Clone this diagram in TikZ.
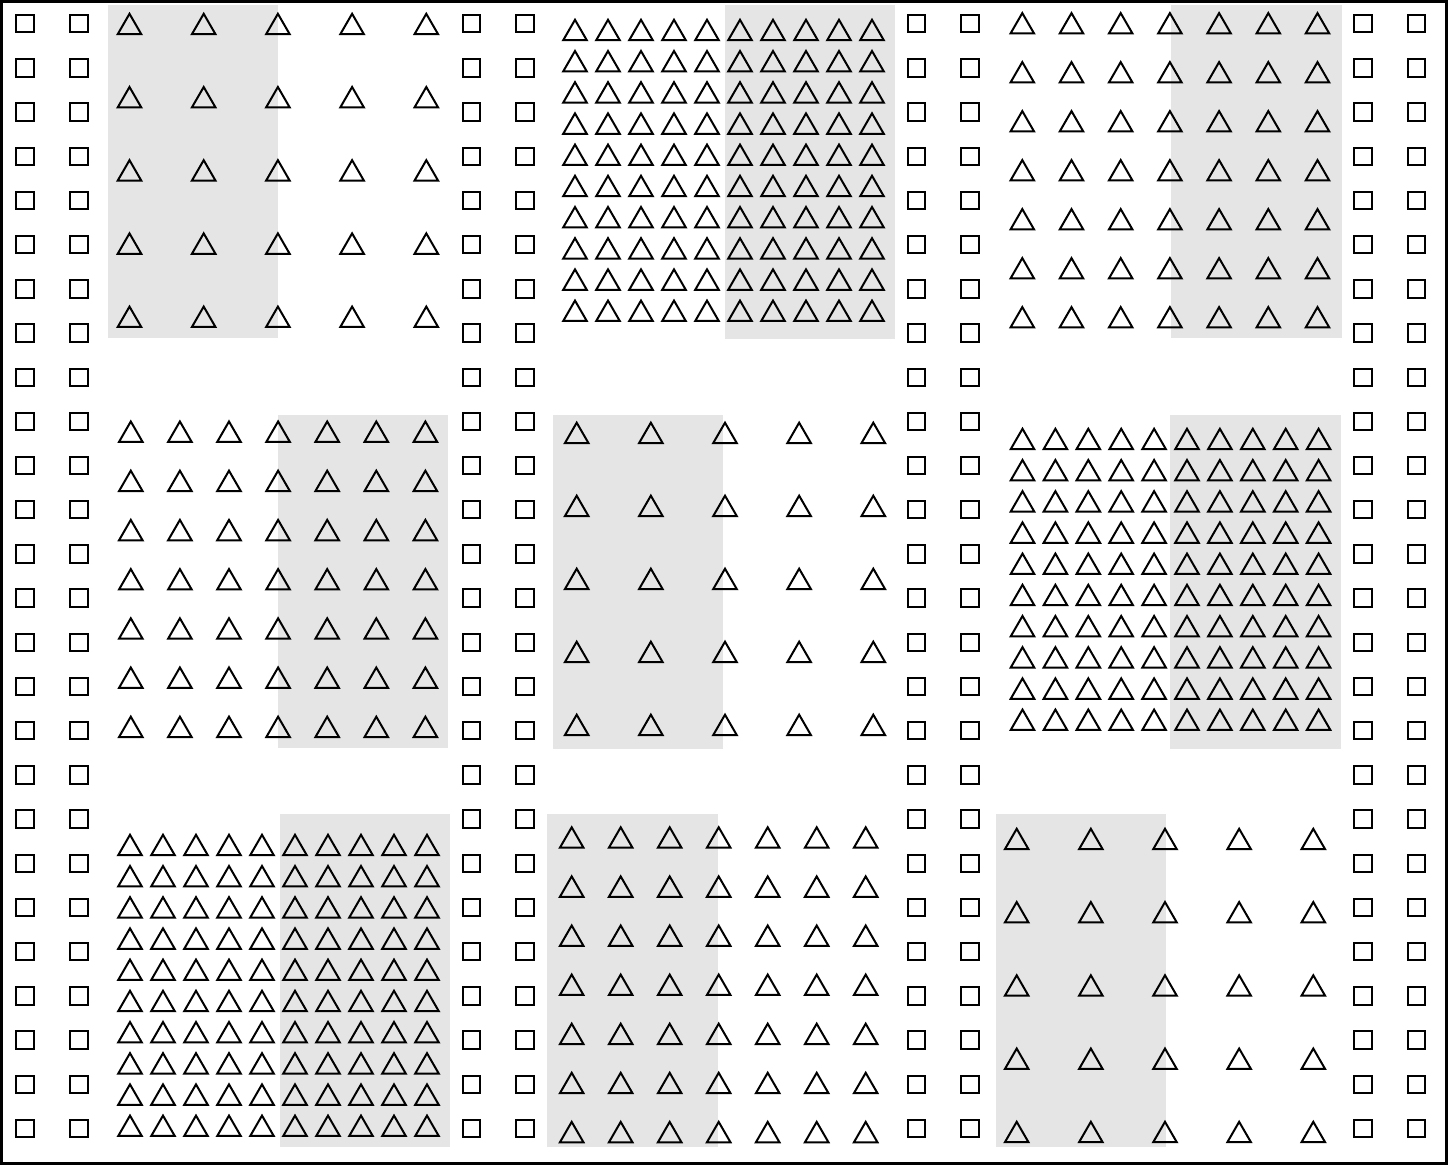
\documentclass[tikz,border=0pt]{standalone}
\usetikzlibrary{shapes.geometric}

\begin{document}
\begin{tikzpicture}[x=0.5pt,y=-0.5pt,
  tri/.style = {draw, regular polygon, regular polygon sides=3, minimum size=13.6pt, inner sep=0pt, outer sep=0pt, line width=1pt},
  sq/.style = {draw, rectangle, minimum size=8.7pt, inner sep=0pt, outer sep=0pt, line width=1pt},
  band/.style = {fill=gray!20}]
\useasboundingbox (0,0) rectangle (1448,1165);
\foreach \gx/\gy/\gw/\gh in {108/5/170/333, 725/5/170/334, 1171/5/171/333,
  278/415/170/333, 553/415/170/334, 1170/415/171/334,
  280/814/170/333, 547/814/171/333, 996/814/170/333}
  \fill[band] (\gx,\gy) rectangle ++(\gw,\gh);
\foreach \px/\py/\n/\dx/\dy [count=\k] in {129.5/24/5/74.2/73.2, 575/30/10/33/31.2, 1022.3/23.3/7/49.2/49,
  130.8/431.7/7/49.1/49.2, 576.7/432.9/5/74.15/73, 1022.5/439/10/32.9/31.2,
  130/845/10/33/31.2, 571.7/837.5/7/49/49.1, 1016.7/839/5/74.15/73.25}
  \foreach \i in {1,...,\n}
    \foreach \j in {1,...,\n}
      \node[tri] (t\k-\i-\j) at ({\px+(\i-1)*\dx},{\py+(\j-1)*\dy+3.4}) {};
\foreach \sx [count=\c] in {25,79,471.3,525,916.3,970,1363,1416.7}
  \foreach \r in {1,...,26}
    \node[sq] (s\c-\r) at (\sx,{23.7+(\r-1)*44.19}) {};
\draw[line width=1.5pt] (1.5,1.5) rectangle (1446.5,1163.5);
\end{tikzpicture}
\end{document}
